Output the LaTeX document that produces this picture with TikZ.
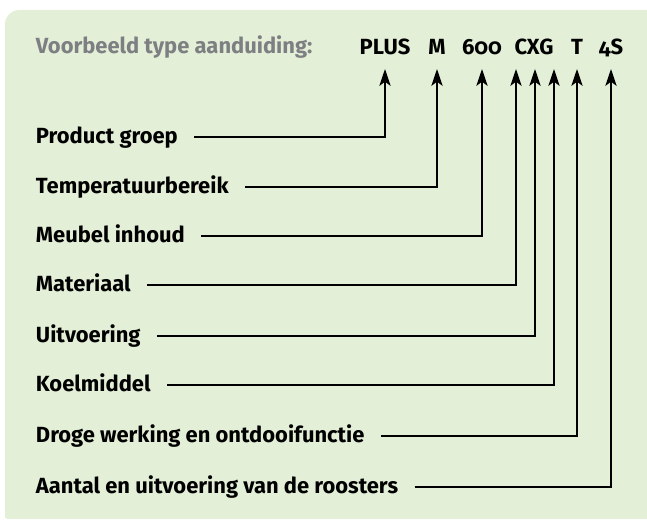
\documentclass[tikz,border=0pt]{standalone}
\usepackage{fontspec}
\setmainfont{Fira Sans}[Numbers=OldStyle]
\usetikzlibrary{arrows.meta}
\definecolor{panelgreen}{RGB}{227,239,214}
\definecolor{titlegray}{RGB}{125,127,130}

\begin{document}
\begin{tikzpicture}[
        x=0.025cm, y=-0.025cm,
        >={Stealth[length=12pt,width=8pt,inset=3pt]}, line width=1.4pt,
        txt/.style={font=\bfseries\fontsize{15.6}{18}\selectfont, inner sep=0pt},
        partname/.style={txt, anchor=base west},
        codepart/.style={txt, anchor=base},
    ]
    \useasboundingbox (0,0) rectangle (647,523);
    \fill[panelgreen] (647,10) [rounded corners=10pt] -- (5,10)
        [rounded corners=2pt] -- (5,519) [sharp corners] -- (647,519) -- cycle;

    \node[partname, titlegray] (title) at (35,54) {Voorbeeld type aanduiding:};

    \node[codepart] (plus) at (385,55) {PLUS};
    \node[codepart] (m) at (437,55) {M};
    \node[codepart] (size) at (482,55) {600};
    \node[codepart] (cxg) at (534,55) {CXG};
    \node[codepart] (t) at (577,55) {T};
    \node[codepart] (rack) at (611,55) {4S};

    \foreach \n/\lab/\y/\x in {grp/Product groep/137/385,
                               temp/Temperatuurbereik/187/437,
                               vol/Meubel inhoud/236/482,
                               mat/Materiaal/285/516,
                               uit/Uitvoering/336/535,
                               koel/Koelmiddel/385/554,
                               dry/Droge werking en ontdooifunctie/436/577,
                               num/Aantal en uitvoering van de roosters/487/611}
    {
        \node[partname] (\n) at (35,\y+7) {\lab};
        \coordinate (\n tip) at (\x,69);
        \coordinate (\n end) at ([xshift=11pt]\n.base east);
        \draw[->] (\n end |- 0,\y) -| (\n tip);
    }
\end{tikzpicture}
\end{document}
